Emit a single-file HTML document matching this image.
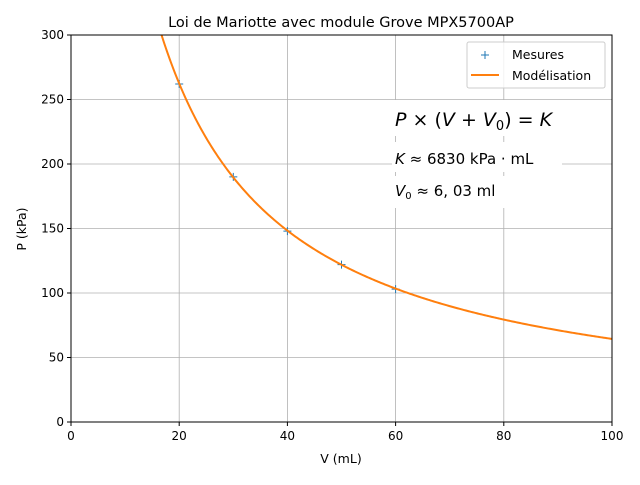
<!DOCTYPE html>
<html><head><meta charset="utf-8"><style>
body{margin:0;background:#fff}
text{font-family:"DejaVu Sans","Liberation Sans",sans-serif}
</style></head><body>
<svg id="chart" width="640" height="480" xmlns="http://www.w3.org/2000/svg">
<rect width="640" height="480" fill="#fff"/>
<g id="grid"></g>
<g id="marks"></g>
<g id="ann">
<rect x="392" y="100" width="160" height="36" fill="#fff"/>
<rect x="392" y="142" width="170" height="30" fill="#fff"/>
<rect x="392" y="176" width="115" height="32" fill="#fff"/>
<text x="395" y="126" font-size="19" font-style="italic">P <tspan font-style="normal">×</tspan> <tspan font-style="normal">(</tspan>V <tspan font-style="normal">+</tspan> V<tspan font-size="13" dy="4" font-style="normal">0</tspan><tspan dy="-4" font-style="normal">) =</tspan> K</text>
<text x="395" y="164" font-size="15"><tspan font-style="italic">K</tspan> ≈ 6830 kPa · mL</text>
<text x="395" y="196" font-size="15"><tspan font-style="italic">V</tspan><tspan font-size="10" dy="3">0</tspan><tspan dy="-3"> ≈ 6, 03 ml</tspan></text>
</g>
<rect x="71" y="35" width="541" height="387" fill="none" stroke="#000" stroke-width="1"/>
<g id="axes"></g>
<text x="341" y="27" font-size="14.5" text-anchor="middle">Loi de Mariotte avec module Grove MPX5700AP</text>
<text x="341" y="463" font-size="12.5" text-anchor="middle">V (mL)</text>
<text x="26" y="229" font-size="12.5" text-anchor="middle" transform="rotate(-90 26 229)">P (kPa)</text>
<g>
<rect x="467" y="42" width="138" height="46" rx="2" fill="#fff" fill-opacity="0.8" stroke="#ccc"/>
<g>
<path d="M481 55h8M485 51v8" stroke="#1f77b4" stroke-width="1"/>
<text x="512" y="59" font-size="12.5">Mesures</text>
</g>
<g>
<path d="M471 75h28" stroke="#ff7f0e" stroke-width="2"/>
<text x="512" y="80" font-size="12.5">Modélisation</text>
</g>
</g>
</svg>
<script>
const xTicks=[0,20,40,60,80,100];
const yTicks=[0,50,100,150,200,250,300];
const measV=[20,30,40,50,60];
const measP=[262,190,148,122,103];
const K=6830;
const V0=6.03;
const X0=71,X1=612,Y0=422,Y1=35;
const sx=v=>X0+(v-0)/(100-0)*(X1-X0);
const sy=p=>Y0-(p-0)/(300-0)*(Y0-Y1);
const NS='http://www.w3.org/2000/svg';
const mk=(t,a,parent)=>{const e=document.createElementNS(NS,t);for(const k in a)e.setAttribute(k,a[k]);parent.appendChild(e);return e;};
const grid=document.getElementById('grid'),axes=document.getElementById('axes'),marks=document.getElementById('marks');
xTicks.forEach(v=>{
 const l=mk('line',{x1:sx(v),x2:sx(v),y1:Y1,y2:Y0,stroke:'#b0b0b0','stroke-width':0.8},grid);
 
 
 const t=mk('line',{x1:sx(v),x2:sx(v),y1:Y0,y2:Y0+4,stroke:'#000'},axes);
 
 
 const tx=mk('text',{x:sx(v),y:Y0+18,'font-size':12,'text-anchor':'middle'},axes);
 tx.textContent=v;
 
 
});
yTicks.forEach(p=>{
 const l=mk('line',{x1:X0,x2:X1,y1:sy(p),y2:sy(p),stroke:'#b0b0b0','stroke-width':0.8},grid);
 
 
 const t=mk('line',{x1:X0-4,x2:X0,y1:sy(p),y2:sy(p),stroke:'#000'},axes);
 
 
 const tx=mk('text',{x:X0-7,y:sy(p)+4,'font-size':12,'text-anchor':'end'},axes);
 tx.textContent=p;
 
 
});
let d='';let started=false;
for(let v=0;v<=100;v+=0.25){const p=K/(v+V0);if(p>300)continue;d+=(started?'L':'M')+sx(v).toFixed(2)+' '+sy(p).toFixed(2);started=true;}
const vs=K/300-V0;d='M'+sx(vs)+' '+sy(300)+d.replace(/^M/,'L');
const path=mk('path',{d:d,fill:'none',stroke:'#ff7f0e','stroke-width':2},marks);


measV.forEach((v,i)=>{
 const x=sx(v),y=sy(measP[i]);
 const m=mk('path',{d:`M${x-4} ${y}h8M${x} ${y-4}v8`,stroke:'#1f77b4','stroke-width':1},marks);
 
 
});
marks.appendChild(path);
</script>
</body></html>
